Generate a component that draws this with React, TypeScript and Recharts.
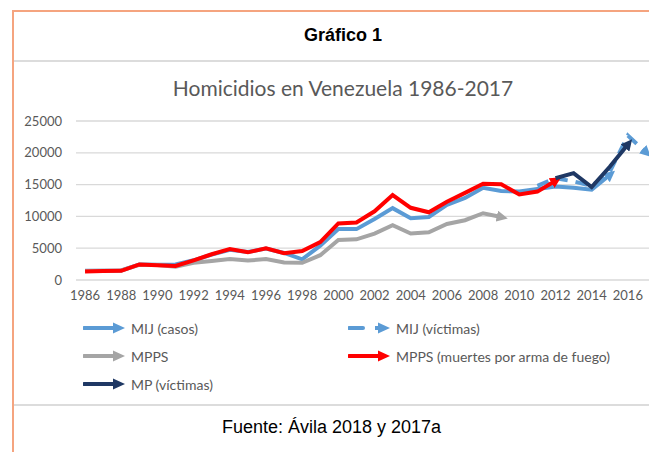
import { LineChart, Line, XAxis, YAxis, CartesianGrid } from 'recharts';

const years = [
	1986, 1987, 1988, 1989, 1990, 1991, 1992, 1993, 1994, 1995, 1996, 1997, 1998, 1999, 2000, 2001,
	2002, 2003, 2004, 2005, 2006, 2007, 2008, 2009, 2010, 2011, 2012, 2013, 2014, 2015, 2016, 2017,
];

const mijCasos = [
	1450, 1450, 1500, 2450, 2400, 2450, 3100, 4000, 4750, 4400, 4950, 4250, 3250, 5400, 8000, 8000,
	9600, 11300, 9700, 9900, 11800, 12900, 14500, 14000, 13900, 14300, 14700, 14500, 14200, 16500, null, null,
];

const mijVictimas = [
	null, null, null, null, null, null, null, null, null, null, null, null, null, null, null, null,
	null, null, null, null, null, null, null, null, null, 14800, 16000, 15500, 14800, 17000, 22700, 20100,
];

const mpps = [
	1400, 1450, 1500, 2400, 2350, 2100, 2700, 3000, 3300, 3050, 3300, 2750, 2700, 3900, 6300, 6400,
	7300, 8600, 7300, 7500, 8800, 9400, 10500, 9900, null, null, null, null, null, null, null, null,
];

const mppsArmas = [
	1350, 1400, 1450, 2450, 2300, 2200, 3100, 4050, 4850, 4350, 4980, 4220, 4550, 5950, 8900, 9050,
	10800, 13350, 11350, 10650, 12300, 13700, 15150, 15050, 13450, 13900, 15600, null, null, null, null, null,
];

const mpVictimas = [
	null, null, null, null, null, null, null, null, null, null, null, null, null, null, null, null,
	null, null, null, null, null, null, null, null, null, null, 16000, 16800, 14600, 17800, 21300, null,
];

const yTicks = [0, 5000, 10000, 15000, 20000, 25000];
const xTicks = [1986, 1988, 1990, 1992, 1994, 1996, 1998, 2000, 2002, 2004, 2006, 2008, 2010, 2012, 2014, 2016];

const BLUE = '#5b9bd5';
const GRAY = '#a5a5a5';
const RED = '#ff0000';
const NAVY = '#1f3864';
const TEXT = '#595959';

const data = years.map((y, i) => ({
	year: y,
	mijCasos: mijCasos[i],
	mijVictimas: mijVictimas[i],
	mpps: mpps[i],
	mppsArmas: mppsArmas[i],
	mpVictimas: mpVictimas[i],
}));

function Markers() {
	const cols: [string, string][] = [
		['blue', BLUE],
		['gray', GRAY],
		['red', RED],
		['navy', NAVY],
	];
	return (
		<svg width={0} height={0} style={{ position: 'absolute' }}>
			<defs>
				{cols.map(([id, c]) => (
					<marker
						key={id}
						id={'arr-' + id}
						viewBox='0 0 10 10'
						refX={4}
						refY={5}
						markerWidth={2.8}
						markerHeight={2.8}
						orient='auto'
						markerUnits='strokeWidth'
					>
						<path d='M0,0 L10,5 L0,10 z' fill={c} />
					</marker>
				))}
			</defs>
		</svg>
	);
}

function LegArrow({ color, dashed }: { color: string; dashed?: boolean }) {
	return (
		<svg width={42} height={12} style={{ display: 'block' }}>
			{dashed ? (
				<>
					<line x1={1} y1={6} x2={15} y2={6} stroke={color} strokeWidth={4} strokeLinecap='round' />
					<line x1={27} y1={6} x2={33} y2={6} stroke={color} strokeWidth={4} />
				</>
			) : (
				<line x1={1} y1={6} x2={32} y2={6} stroke={color} strokeWidth={4} strokeLinecap='round' />
			)}
			<polygon points='30,0.5 42,6 30,11.5' fill={color} />
		</svg>
	);
}

function LegItem(props: { x: number; y: number; color: string; label: string; dashed?: boolean }) {
	return (
		<div
			style={{
				position: 'absolute',
				left: props.x,
				top: props.y - 9,
				height: 18,
				display: 'flex',
				alignItems: 'center',
				gap: 6,
				fontSize: 14,
				color: TEXT,
				whiteSpace: 'nowrap',
			}}
		>
			<LegArrow color={props.color} dashed={props.dashed} />
			<span>{props.label}</span>
		</div>
	);
}

export default function App() {
	return (
		<div
			style={{
				position: 'absolute',
				left: 0,
				top: 0,
				width: 649,
				height: 452,
				overflow: 'hidden',
				background: '#fff',
				fontFamily: 'Lato, sans-serif',
			}}
		>
			<Markers />
			{/* frame */}
			<div
				style={{
					position: 'absolute',
					left: 12,
					top: 10,
					width: 649,
					height: 460,
					borderTop: '2px solid #f5a47f',
					borderLeft: '2px solid #f5a47f',
				}}
			/>
			<div style={{ position: 'absolute', left: 14, top: 60, width: 640, height: 2, background: '#dcdcdc' }} />
			<div style={{ position: 'absolute', left: 14, top: 404, width: 640, height: 2, background: '#dcdcdc' }} />

			<div
				style={{
					position: 'absolute',
					left: 37,
					width: 612,
					top: 25,
					textAlign: 'center',
					fontFamily: '"Liberation Sans", Arial, sans-serif',
					fontWeight: 'bold',
					fontSize: 18,
					color: '#000',
				}}
			>
				Gráfico 1
			</div>
			<div
				style={{
					position: 'absolute',
					left: 37,
					width: 612,
					top: 75,
					textAlign: 'center',
					fontSize: 21,
					color: TEXT,
				}}
			>
				Homicidios en Venezuela 1986-2017
			</div>

			<div style={{ position: 'absolute', left: 0, top: 100 }}>
				<LineChart width={700} height={210} data={data} margin={{ top: 21, right: 45, left: 16, bottom: 0 }}>
					<CartesianGrid vertical={false} stroke='#d9d9d9' strokeWidth={1.3} />
					<XAxis
						dataKey='year'
						type='number'
						domain={[1985.5, 2017.5]}
						ticks={xTicks}
						allowDataOverflow
						axisLine={false}
						tickLine={false}
						tickMargin={5}
						tick={{ fill: TEXT, fontSize: 13 }}
						interval={0}
					/>
					<YAxis
						domain={[0, 25000]}
						ticks={yTicks}
						width={60}
						axisLine={false}
						tickLine={false}
						tickMargin={8}
						tick={{ fill: TEXT, fontSize: 13 }}
					/>
					<Line
						dataKey='mijCasos'
						type='linear'
						stroke={BLUE}
						strokeWidth={4}
						dot={false}
						markerEnd='url(#arr-blue)'
						isAnimationActive={false}
					/>
					<Line
						dataKey='mijVictimas'
						type='linear'
						stroke={BLUE}
						strokeWidth={4}
						strokeDasharray='12 8'
						dot={false}
						markerEnd='url(#arr-blue)'
						isAnimationActive={false}
					/>
					<Line
						dataKey='mpps'
						type='linear'
						stroke={GRAY}
						strokeWidth={4}
						dot={false}
						markerEnd='url(#arr-gray)'
						isAnimationActive={false}
					/>
					<Line
						dataKey='mppsArmas'
						type='linear'
						stroke={RED}
						strokeWidth={4}
						dot={false}
						markerEnd='url(#arr-red)'
						isAnimationActive={false}
					/>
					<Line
						dataKey='mpVictimas'
						type='linear'
						stroke={NAVY}
						strokeWidth={4}
						dot={false}
						markerEnd='url(#arr-navy)'
						isAnimationActive={false}
					/>
				</LineChart>
			</div>

			<LegItem x={83} y={328} color={BLUE} label='MIJ (casos)' />
			<LegItem x={348} y={328} color={BLUE} label='MIJ (víctimas)' dashed />
			<LegItem x={83} y={356} color={GRAY} label='MPPS' />
			<LegItem x={348} y={356} color={RED} label='MPPS (muertes por arma de fuego)' />
			<LegItem x={83} y={384} color={NAVY} label='MP (víctimas)' />

			<div
				style={{
					position: 'absolute',
					left: 14,
					width: 649 - 14,
					top: 417,
					textAlign: 'center',
					fontFamily: '"Liberation Sans", Arial, sans-serif',
					fontSize: 18,
					color: '#000',
				}}
			>
				Fuente: Ávila 2018 y 2017a
			</div>
		</div>
	);
}
